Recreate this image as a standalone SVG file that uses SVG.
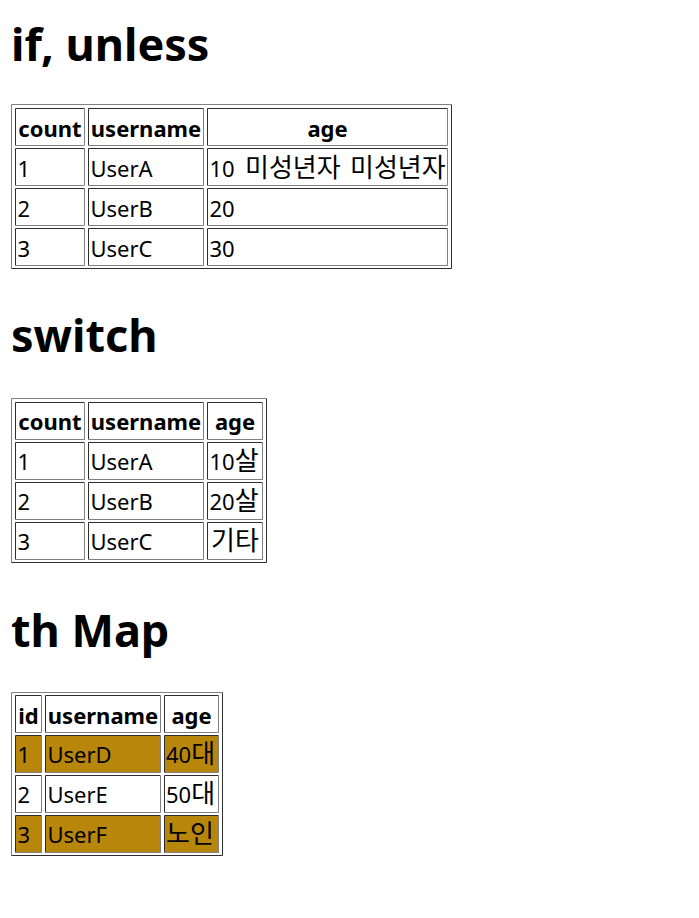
<svg xmlns="http://www.w3.org/2000/svg" width="699" height="918" viewBox="0 0 699 918">
<style>
  text { font-family: "Noto Sans", "Noto Sans CJK KR", sans-serif; fill: #000; }
  .h1 { font-size: 45px; font-weight: bold; }
  .th { font-size: 22px; font-weight: bold; text-anchor: middle; }
  .td { font-size: 22px; }
  .ko { font-family: "Noto Sans CJK KR", "Noto Sans", sans-serif; font-size: 26px; }
  .lt { fill: none; stroke: #808080; stroke-width: 1; }
  .dk { fill: none; stroke: #2e2e2e; stroke-width: 1; }
  .gold { fill: #b8860b; }
</style>
<rect x="0" y="0" width="699" height="918" fill="#ffffff"/>

<g id="heading-if-unless"><text class="h1" x="11" y="60.5">if, unless</text></g>

<g id="table-if-unless">
  <path class="lt" d="M11.5 268.5 V104.5 H451.5"/>
  <path class="dk" d="M11.5 268.5 H451.5 V104.5"/>
  <g id="t1-cells">
    <path class="dk" d="M15.5 145.5 V108.5 H84.5 M88.5 145.5 V108.5 H203.5 M207.5 145.5 V108.5 H447.5"/>
    <path class="lt" d="M15.5 145.5 H84.5 V108.5 M88.5 145.5 H203.5 V108.5 M207.5 145.5 H447.5 V108.5"/>
    <path class="dk" d="M15.5 185.5 V148.5 H84.5 M88.5 185.5 V148.5 H203.5 M207.5 185.5 V148.5 H447.5"/>
    <path class="lt" d="M15.5 185.5 H84.5 V148.5 M88.5 185.5 H203.5 V148.5 M207.5 185.5 H447.5 V148.5"/>
    <path class="dk" d="M15.5 225.5 V188.5 H84.5 M88.5 225.5 V188.5 H203.5 M207.5 225.5 V188.5 H447.5"/>
    <path class="lt" d="M15.5 225.5 H84.5 V188.5 M88.5 225.5 H203.5 V188.5 M207.5 225.5 H447.5 V188.5"/>
    <path class="dk" d="M15.5 265.5 V228.5 H84.5 M88.5 265.5 V228.5 H203.5 M207.5 265.5 V228.5 H447.5"/>
    <path class="lt" d="M15.5 265.5 H84.5 V228.5 M88.5 265.5 H203.5 V228.5 M207.5 265.5 H447.5 V228.5"/>
  </g>
  <text class="th" x="50" y="136.5">count</text>
  <text class="th" x="146" y="136.5">username</text>
  <text class="th" x="327.5" y="136.5">age</text>
  <text class="td" x="17.5" y="176.5">1</text>
  <text class="td" x="90.5" y="176.5">UserA</text>
  <text class="td" x="209.5" y="176.5">10 <tspan class="ko" x="245">미성년자</tspan><tspan class="ko" x="350">미성년자</tspan></text>
  <text class="td" x="17.5" y="216.5">2</text>
  <text class="td" x="90.5" y="216.5">UserB</text>
  <text class="td" x="209.5" y="216.5">20</text>
  <text class="td" x="17.5" y="256.5">3</text>
  <text class="td" x="90.5" y="256.5">UserC</text>
  <text class="td" x="209.5" y="256.5">30</text>
</g>

<g id="heading-switch"><text class="h1" x="11" y="352.3">switch</text></g>

<g id="table-switch">
  <path class="lt" d="M11.5 562.5 V398.5 H266.5"/>
  <path class="dk" d="M11.5 562.5 H266.5 V398.5"/>
  <g id="t2-cells">
    <path class="dk" d="M15.5 439.5 V402.5 H84.5 M88.5 439.5 V402.5 H203.5 M207.5 439.5 V402.5 H262.5"/>
    <path class="lt" d="M15.5 439.5 H84.5 V402.5 M88.5 439.5 H203.5 V402.5 M207.5 439.5 H262.5 V402.5"/>
    <path class="dk" d="M15.5 479.5 V442.5 H84.5 M88.5 479.5 V442.5 H203.5 M207.5 479.5 V442.5 H262.5"/>
    <path class="lt" d="M15.5 479.5 H84.5 V442.5 M88.5 479.5 H203.5 V442.5 M207.5 479.5 H262.5 V442.5"/>
    <path class="dk" d="M15.5 519.5 V482.5 H84.5 M88.5 519.5 V482.5 H203.5 M207.5 519.5 V482.5 H262.5"/>
    <path class="lt" d="M15.5 519.5 H84.5 V482.5 M88.5 519.5 H203.5 V482.5 M207.5 519.5 H262.5 V482.5"/>
    <path class="dk" d="M15.5 559.5 V522.5 H84.5 M88.5 559.5 V522.5 H203.5 M207.5 559.5 V522.5 H262.5"/>
    <path class="lt" d="M15.5 559.5 H84.5 V522.5 M88.5 559.5 H203.5 V522.5 M207.5 559.5 H262.5 V522.5"/>
  </g>
  <text class="th" x="50" y="430">count</text>
  <text class="th" x="146" y="430">username</text>
  <text class="th" x="235" y="430">age</text>
  <text class="td" x="17.5" y="470">1</text>
  <text class="td" x="90.5" y="470">UserA</text>
  <text class="td" x="209.5" y="470">10<tspan class="ko">살</tspan></text>
  <text class="td" x="17.5" y="510">2</text>
  <text class="td" x="90.5" y="510">UserB</text>
  <text class="td" x="209.5" y="510">20<tspan class="ko">살</tspan></text>
  <text class="td" x="17.5" y="550">3</text>
  <text class="td" x="90.5" y="550">UserC</text>
  <text class="td ko" x="211" y="550">기타</text>
</g>

<g id="heading-th-map"><text class="h1" x="11" y="647.3">th Map</text></g>

<g id="table-th-map">
  <path class="lt" d="M11.5 855.5 V692.5 H222.5"/>
  <path class="dk" d="M11.5 855.5 H222.5 V692.5"/>
  <g id="t3-fills">
    <rect class="gold" x="15.5" y="735.5" width="26" height="37"/>
    <rect class="gold" x="45.5" y="735.5" width="115" height="37"/>
    <rect class="gold" x="164.5" y="735.5" width="54" height="37"/>
    <rect class="gold" x="15.5" y="815.5" width="26" height="37"/>
    <rect class="gold" x="45.5" y="815.5" width="115" height="37"/>
    <rect class="gold" x="164.5" y="815.5" width="54" height="37"/>
  </g>
  <g id="t3-cells">
    <path class="dk" d="M15.5 732.5 V695.5 H41.5 M45.5 732.5 V695.5 H160.5 M164.5 732.5 V695.5 H218.5"/>
    <path class="lt" d="M15.5 732.5 H41.5 V695.5 M45.5 732.5 H160.5 V695.5 M164.5 732.5 H218.5 V695.5"/>
    <path class="dk" d="M15.5 772.5 V735.5 H41.5 M45.5 772.5 V735.5 H160.5 M164.5 772.5 V735.5 H218.5"/>
    <path class="lt" d="M15.5 772.5 H41.5 V735.5 M45.5 772.5 H160.5 V735.5 M164.5 772.5 H218.5 V735.5"/>
    <path class="dk" d="M15.5 812.5 V775.5 H41.5 M45.5 812.5 V775.5 H160.5 M164.5 812.5 V775.5 H218.5"/>
    <path class="lt" d="M15.5 812.5 H41.5 V775.5 M45.5 812.5 H160.5 V775.5 M164.5 812.5 H218.5 V775.5"/>
    <path class="dk" d="M15.5 852.5 V815.5 H41.5 M45.5 852.5 V815.5 H160.5 M164.5 852.5 V815.5 H218.5"/>
    <path class="lt" d="M15.5 852.5 H41.5 V815.5 M45.5 852.5 H160.5 V815.5 M164.5 852.5 H218.5 V815.5"/>
  </g>
  <text class="th" x="28.5" y="723.5">id</text>
  <text class="th" x="103" y="723.5">username</text>
  <text class="th" x="191.5" y="723.5">age</text>
  <text class="td" x="17.5" y="763">1</text>
  <text class="td" x="47.5" y="763">UserD</text>
  <text class="td" x="166" y="763">40<tspan class="ko">대</tspan></text>
  <text class="td" x="17.5" y="803">2</text>
  <text class="td" x="47.5" y="803">UserE</text>
  <text class="td" x="166" y="803">50<tspan class="ko">대</tspan></text>
  <text class="td" x="17.5" y="843">3</text>
  <text class="td" x="47.5" y="843">UserF</text>
  <text class="td ko" x="166" y="843">노인</text>
</g>
</svg>
